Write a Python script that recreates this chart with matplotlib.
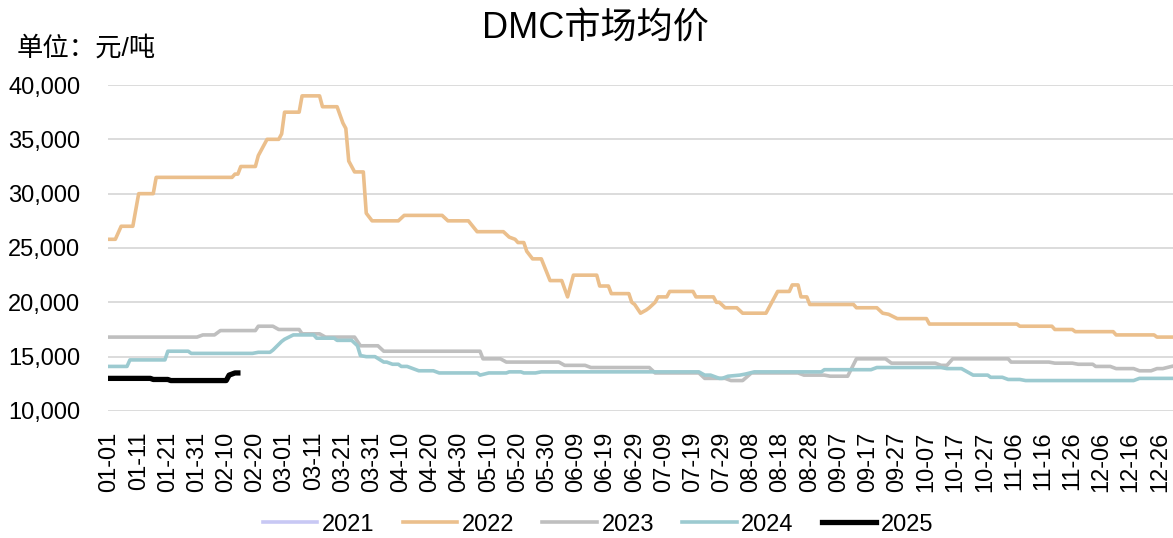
import matplotlib
matplotlib.use('Agg')
import matplotlib.pyplot as plt

plt.rcParams['font.family'] = ['Liberation Sans', 'Noto Sans CJK SC']

# price knots per year: (day of year, 0 = 01-01; price in yuan/ton)
prices_2022 = [(0, 25800), (2, 25800), (4, 27000), (8, 27000), (9, 28500), (10, 30000),
               (15, 30000), (16, 31500), (42, 31500), (43, 31800), (44, 31800), (45, 32500),
               (50, 32500), (51, 33500), (52, 34000), (54, 35000), (58, 35000), (59, 35500),
               (60, 37500), (65, 37500), (66, 39000), (72, 39000), (73, 38000), (78, 38000),
               (80, 36500), (81, 36000), (82, 33000), (84, 32000), (87, 32000), (88, 28200),
               (90, 27500), (99, 27500), (101, 28000), (114, 28000), (116, 27500), (123, 27500),
               (126, 26500), (135, 26500), (137, 26000), (139, 25800), (140, 25500),
               (142, 25500), (143, 24700), (145, 24000), (148, 24000), (151, 22000),
               (155, 22000), (157, 20500), (159, 22500), (167, 22500), (168, 21500),
               (171, 21500), (172, 20800), (178, 20800), (179, 20000), (180, 19800),
               (182, 19000), (184, 19300), (185, 19500), (187, 20000), (188, 20500),
               (191, 20500), (192, 21000), (200, 21000), (201, 20500), (207, 20500),
               (208, 20000), (209, 20000), (211, 19500), (215, 19500), (217, 19000),
               (225, 19000), (229, 21000), (233, 21000), (234, 21600), (236, 21600),
               (237, 20500), (239, 20500), (240, 19800), (255, 19800), (256, 19500),
               (263, 19500), (265, 19000), (267, 18900), (270, 18500), (280, 18500),
               (281, 18000), (311, 18000), (312, 17800), (323, 17800), (324, 17500),
               (330, 17500), (331, 17300), (344, 17300), (345, 17000), (358, 17000),
               (359, 16800), (364, 16800)]

prices_2023 = [(0, 16800), (30, 16800), (32, 17000), (36, 17000), (38, 17400), (50, 17400),
               (51, 17800), (56, 17800), (58, 17500), (65, 17500), (66, 17100), (72, 17100),
               (74, 16800), (84, 16800), (86, 16000), (92, 16000), (94, 15500), (127, 15500),
               (128, 14800), (134, 14800), (136, 14500), (154, 14500), (156, 14200),
               (163, 14200), (165, 14000), (185, 14000), (187, 13500), (202, 13500),
               (204, 13000), (211, 13000), (213, 12800), (217, 12800), (220, 13500),
               (236, 13500), (238, 13300), (245, 13300), (247, 13200), (253, 13200),
               (256, 14800), (266, 14800), (268, 14400), (283, 14400), (285, 14200),
               (287, 14200), (289, 14800), (308, 14800), (309, 14500), (322, 14500),
               (324, 14400), (330, 14400), (332, 14300), (337, 14300), (338, 14100),
               (343, 14100), (345, 13900), (351, 13900), (353, 13700), (357, 13700),
               (359, 13900), (361, 13900), (364, 14100)]

prices_2024 = [(0, 14100), (6, 14100), (7, 14700), (19, 14700), (20, 15500), (27, 15500),
               (28, 15300), (49, 15300), (51, 15400), (55, 15400), (56, 15600), (59, 16400),
               (60, 16600), (63, 17000), (70, 17000), (71, 16700), (77, 16700), (78, 16500),
               (83, 16500), (85, 16000), (86, 15100), (88, 15000), (91, 15000), (94, 14500),
               (95, 14500), (97, 14300), (99, 14300), (100, 14100), (102, 14100), (104, 13900),
               (106, 13700), (111, 13700), (113, 13500), (126, 13500), (127, 13300),
               (130, 13500), (136, 13500), (137, 13600), (141, 13600), (142, 13500),
               (146, 13500), (148, 13600), (202, 13600), (204, 13300), (206, 13300),
               (209, 13000), (210, 13000), (212, 13200), (216, 13300), (218, 13400),
               (221, 13600), (244, 13600), (245, 13800), (261, 13800), (263, 14000),
               (285, 14000), (287, 13900), (292, 13900), (296, 13300), (301, 13300),
               (302, 13100), (306, 13100), (308, 12900), (312, 12900), (314, 12800),
               (351, 12800), (353, 13000), (364, 13000)]

prices_2025 = [(0, 13000), (14, 13000), (15, 12900), (20, 12900), (21, 12800), (40, 12800),
               (41, 13300), (43, 13500), (44, 13500)]

tick_days = list(range(0, 361, 10))
tick_labels = ['01-01', '01-11', '01-21', '01-31', '02-10', '02-20', '03-01', '03-11', '03-21',
               '03-31', '04-10', '04-20', '04-30', '05-10', '05-20', '05-30', '06-09', '06-19',
               '06-29', '07-09', '07-19', '07-29', '08-08', '08-18', '08-28', '09-07', '09-17',
               '09-27', '10-07', '10-17', '10-27', '11-06', '11-16', '11-26', '12-06', '12-16',
               '12-26']

fig = plt.figure(figsize=(11.73, 5.38), dpi=100)
ax = fig.add_axes([0.0921, 0.2361, 0.9079, 0.6059])


def draw(series, **kw):
    xs = [d for d, _ in series]
    ys = [v for _, v in series]
    ax.plot(xs, ys, **kw)


ax.plot([], [], color='#C8C8F4', lw=2.6, label='2021')
draw(prices_2022, color='#EBBF8C', lw=2.6, label='2022')
draw(prices_2023, color='#BFBFBF', lw=2.6, label='2023')
draw(prices_2024, color='#9CCAD0', lw=2.6, label='2024')
draw(prices_2025, color='black', lw=3.8, label='2025')

ax.set_xlim(-0.5, 364.5)
ax.set_ylim(10000, 40000)
ax.set_yticks(range(10000, 40001, 5000))
ax.set_yticklabels([f'{v:,}' for v in range(10000, 40001, 5000)], fontsize=17)
ax.set_xticks(tick_days)
ax.set_xticklabels(tick_labels, rotation=90, fontsize=17)
ax.tick_params(axis='y', length=0, pad=20)
ax.tick_params(axis='x', length=0, pad=15)
ax.grid(axis='y', color='#D9D9D9', lw=1.3)
ax.set_axisbelow(True)
for s in ax.spines.values():
    s.set_visible(False)

fig.text(0.508, 0.948, 'DMC市场均价', ha='center', va='center', fontsize=26)
fig.text(0.0145, 0.911, '单位：元/吨', ha='left', va='center', fontsize=19)

fig.legend(loc='lower center', bbox_to_anchor=(0.51, -0.035), ncol=5, frameon=False,
           fontsize=17, handlelength=2.3, handletextpad=0.2, columnspacing=1.2)

fig.savefig('out.png', dpi=100)
